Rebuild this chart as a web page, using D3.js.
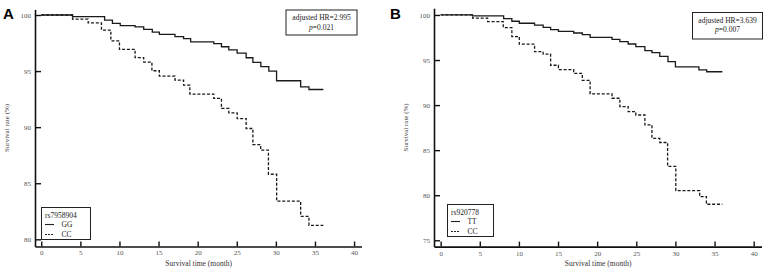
<!DOCTYPE html>
<html>
<head>
<meta charset="utf-8">
<script src="https://cdn.jsdelivr.net/npm/d3@7"></script>
<style>
  html, body { margin: 0; padding: 0; background: #fff; }
  svg { display: block; }
  text { font-family: "Liberation Serif", "DejaVu Serif", serif; }
</style>
</head>
<body>
<svg id="chart" width="765" height="271"></svg>
<script>
// ---------------- DATA ----------------
const xTicks = [0, 5, 10, 15, 20, 25, 30, 35, 40];
const yTicksA = [80, 85, 90, 95, 100];
const yTicksB = [75, 80, 85, 90, 95, 100];

// Panel A: rs7958904 (step times in months, survival %)
const timesA_GG = [0, 4.0, 8.1, 9.1, 10.1, 12.0, 13.1, 14.2, 15.1, 17.1, 18.2, 19.1, 22.06, 23.04, 23.98, 25.05, 26.2, 27.06, 28.08, 29.1, 30.09, 33.17, 34.23, 36.07];
const survA_GG  = [100, 99.85, 99.55, 99.26, 99.05, 98.95, 98.72, 98.48, 98.27, 98.07, 97.9, 97.6, 97.44, 97.17, 96.9, 96.6, 96.19, 95.77, 95.4, 95.0, 94.14, 93.6, 93.36, 93.36];
const timesA_CC = [0, 4.0, 6.0, 7.7, 8.9, 10.0, 12.0, 13.1, 14.15, 15.1, 17.1, 18.2, 19.0, 22.06, 23.04, 23.98, 25.05, 26.2, 27.06, 28.06, 29.05, 30.1, 33.17, 34.23, 36.07];
const survA_CC  = [100, 99.64, 99.3, 98.66, 97.7, 96.94, 96.2, 95.8, 95.03, 94.55, 94.2, 93.75, 92.95, 92.56, 91.67, 91.28, 90.77, 89.88, 88.45, 87.95, 85.8, 83.4, 82.05, 81.25, 81.25];

// Panel B: rs920778
const timesB_TT = [0, 4.08, 8.05, 9.1, 10.05, 12.0, 13.1, 14.05, 15.05, 17.0, 18.1, 19.1, 21.9, 22.9, 23.96, 24.94, 26.1, 27.0, 28.0, 29.05, 30.0, 33.0, 34.0, 36.0];
const survB_TT  = [100, 99.89, 99.6, 99.3, 99.08, 98.88, 98.62, 98.37, 98.18, 98.0, 97.82, 97.52, 97.3, 97.04, 96.78, 96.49, 96.04, 95.82, 95.4, 94.82, 94.25, 93.9, 93.7, 93.7];
const timesB_CC = [0, 4.08, 6.0, 8.0, 9.1, 10.05, 12.0, 13.1, 14.05, 15.05, 17.0, 18.1, 19.1, 21.9, 22.9, 23.96, 24.94, 26.1, 27.0, 28.0, 29.0, 30.05, 33.1, 33.96, 36.0];
const survB_CC  = [100, 99.65, 99.26, 98.6, 97.6, 96.76, 95.93, 95.66, 94.42, 93.94, 93.53, 92.75, 91.24, 90.76, 89.83, 89.28, 88.9, 87.8, 86.3, 85.85, 83.2, 80.5, 79.85, 79.0, 79.0];

const panelLabels = ["A", "B"];
const snpNames = ["rs7958904", "rs920778"];
const groupNamesA = ["GG", "CC"];
const groupNamesB = ["TT", "CC"];
const hrTexts = ["adjusted HR=2.995", "adjusted HR=3.639"];
const pTexts = ["=0.021", "=0.007"];
const xTitle = "Survival time (month)";
const yTitle = "Survival rate (%)";

// ---------------- DRAW ----------------
const svg = d3.select("#chart");

const panels = [
  {
    label: panelLabels[0], labelX: 3, labelY: 19,
    x: d3.scaleLinear().domain([-0.8, 40.95]).range([35, 361.5]),
    y: d3.scaleLinear().domain([79.36, 100.5]).range([246.5, 9.4]),
    yTicks: yTicksA,
    series: [
      { t: timesA_GG, s: survA_GG, dash: null },
      { t: timesA_CC, s: survA_CC, dash: "3,1.8" }
    ],
    snp: snpNames[0], groups: groupNamesA,
    hr: hrTexts[0], p: pTexts[0],
    box: { x: 286, y: 10, w: 71, h: 25 },
    legend: { x: 41.5, y: 207.5, w: 49, h: 32 }
  },
  {
    label: panelLabels[1], labelX: 390, labelY: 19,
    x: d3.scaleLinear().domain([-0.85, 41.0]).range([434, 761.5]),
    y: d3.scaleLinear().domain([74.3, 100.75]).range([246.6, 8.2]),
    yTicks: yTicksB,
    series: [
      { t: timesB_TT, s: survB_TT, dash: null },
      { t: timesB_CC, s: survB_CC, dash: "3,1.8" }
    ],
    snp: snpNames[1], groups: groupNamesB,
    hr: hrTexts[1], p: pTexts[1],
    box: { x: 692.5, y: 12.5, w: 70, h: 26.5 },
    legend: { x: 447.5, y: 204.5, w: 46, h: 32 }
  }
];

panels.forEach(P => {
  const g = svg.append("g");
  const [x0, x1] = P.x.range();
  const [yb, yt] = P.y.range();

  // curves
  P.series.forEach(S => {
    const pts = S.t.map((t, i) => [t, S.s[i]]);
    const line = d3.line()
      .x(d => P.x(d[0]))
      .y(d => P.y(d[1]))
      .curve(d3.curveStepAfter);
    g.append("path")
      .attr("d", line(pts))
      .attr("fill", "none")
      .attr("stroke", "#1a1a1a")
      .attr("stroke-width", 1.3)
      .attr("stroke-dasharray", S.dash);
  });

  // y axis
  const yAxis = d3.axisLeft(P.y).tickValues(P.yTicks).tickSizeInner(-6).tickSizeOuter(0).tickPadding(4);
  const ya = g.append("g").attr("transform", `translate(${x0},0)`).call(yAxis);
  // x axis
  const xAxis = d3.axisBottom(P.x).tickValues(xTicks).tickSizeInner(-5).tickSizeOuter(0).tickPadding(4);
  const xa = g.append("g").attr("transform", `translate(0,${yb})`).call(xAxis);

  [ya, xa].forEach(a => {
    a.select(".domain").attr("stroke", "#111").attr("stroke-width", 1.6);
    a.selectAll(".tick line").attr("stroke", "#111").attr("stroke-width", 1.4);
    a.selectAll(".tick text")
      .attr("fill", "#555")
      .style("font-family", '"Liberation Serif", serif')
      .style("font-size", "7px");
  });

  // axis titles
  g.append("text")
    .attr("x", (P.x(0) + P.x(40)) / 2 + 1)
    .attr("y", 266)
    .attr("text-anchor", "middle")
    .attr("fill", "#333")
    .style("font-size", "7.5px")
    .text(xTitle);
  g.append("text")
    .attr("transform", `translate(${x0 - 26},${(yb + yt) / 2}) rotate(-90)`)
    .attr("text-anchor", "middle")
    .attr("fill", "#444")
    .style("font-size", "7px")
    .text(yTitle);

  // panel label
  g.append("text")
    .attr("x", P.labelX).attr("y", P.labelY)
    .attr("fill", "#000")
    .style("font-family", '"Liberation Sans", Arial, sans-serif')
    .style("font-weight", "bold")
    .style("font-size", "15px")
    .text(P.label);

  // HR box
  const b = P.box;
  g.append("rect")
    .attr("x", b.x).attr("y", b.y).attr("width", b.w).attr("height", b.h)
    .attr("fill", "#fff").attr("stroke", "#222").attr("stroke-width", 1);
  g.append("text")
    .attr("x", b.x + b.w / 2).attr("y", b.y + 10)
    .attr("text-anchor", "middle").attr("fill", "#222")
    .style("font-size", "7.5px")
    .text(P.hr);
  const pt = g.append("text")
    .attr("x", b.x + b.w / 2).attr("y", b.y + 19.5)
    .attr("text-anchor", "middle").attr("fill", "#222")
    .style("font-size", "7.5px");
  pt.append("tspan").style("font-style", "italic").text("p");
  pt.append("tspan").text(P.p);

  // legend
  const L = P.legend;
  g.append("rect")
    .attr("x", L.x).attr("y", L.y).attr("width", L.w).attr("height", L.h)
    .attr("fill", "#fff").attr("stroke", "#222").attr("stroke-width", 1);
  g.append("text")
    .attr("x", L.x + 3.5).attr("y", L.y + 10)
    .attr("fill", "#222").style("font-size", "7.5px")
    .text(P.snp);
  P.groups.forEach((name, i) => {
    const yy = L.y + 17 + i * 10;
    g.append("line")
      .attr("x1", L.x + 3.5).attr("x2", L.x + 12.5)
      .attr("y1", yy).attr("y2", yy)
      .attr("stroke", "#222").attr("stroke-width", 1.1)
      .attr("stroke-dasharray", i === 1 ? "2,1" : null);
    g.append("text")
      .attr("x", L.x + 20).attr("y", yy + 2.5)
      .attr("fill", "#222").style("font-size", "7.5px")
      .text(name);
  });
});
</script>
</body>
</html>
